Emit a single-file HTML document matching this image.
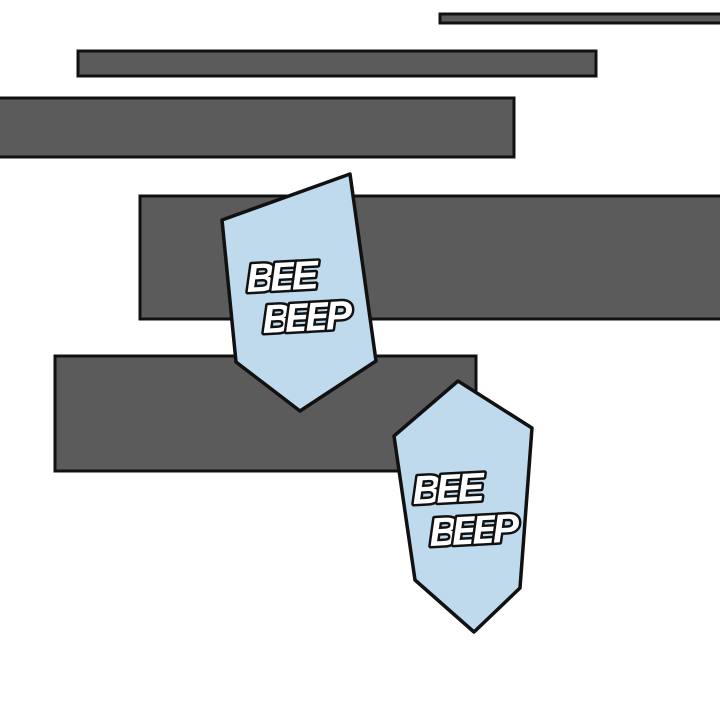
<!DOCTYPE html>
<html><head><style>html,body{margin:0;padding:0;background:#fff;}</style></head>
<body>
<svg width="720" height="700" viewBox="0 0 720 700" xmlns="http://www.w3.org/2000/svg">
<rect width="720" height="700" fill="#fff"/>
<g fill="#5b5b5b" stroke="#111" stroke-width="3">
<rect x="440" y="14" width="284" height="9"/>
<rect x="78" y="51" width="518" height="25"/>
<rect x="-5" y="98" width="519" height="59"/>
<rect x="140" y="196" width="584" height="123"/>
<rect x="55" y="356" width="421" height="115"/>
</g>
<g fill="#bfdaed" stroke="#111" stroke-width="3.5" stroke-linejoin="round">
<polygon points="222,220 350,174 376,361 300,411 236,362"/>
<polygon points="394,436 458,381 532,428 520,588 474,632 415,580"/>
</g>
<g font-family="Liberation Sans, sans-serif" font-weight="bold" font-style="italic" fill="#fff" stroke="#111" stroke-width="5" paint-order="stroke" stroke-linejoin="round">
<text x="247" y="292" font-size="40" textLength="72" transform="rotate(-3 247 292)">BEE</text>
<text x="263" y="333" font-size="40" textLength="90" transform="rotate(-3 263 333)">BEEP</text>
<text x="413" y="504" font-size="40" textLength="72" transform="rotate(-3 413 504)">BEE</text>
<text x="430" y="546" font-size="40" textLength="90" transform="rotate(-3 430 546)">BEEP</text>
</g>
</svg>
</body></html>
